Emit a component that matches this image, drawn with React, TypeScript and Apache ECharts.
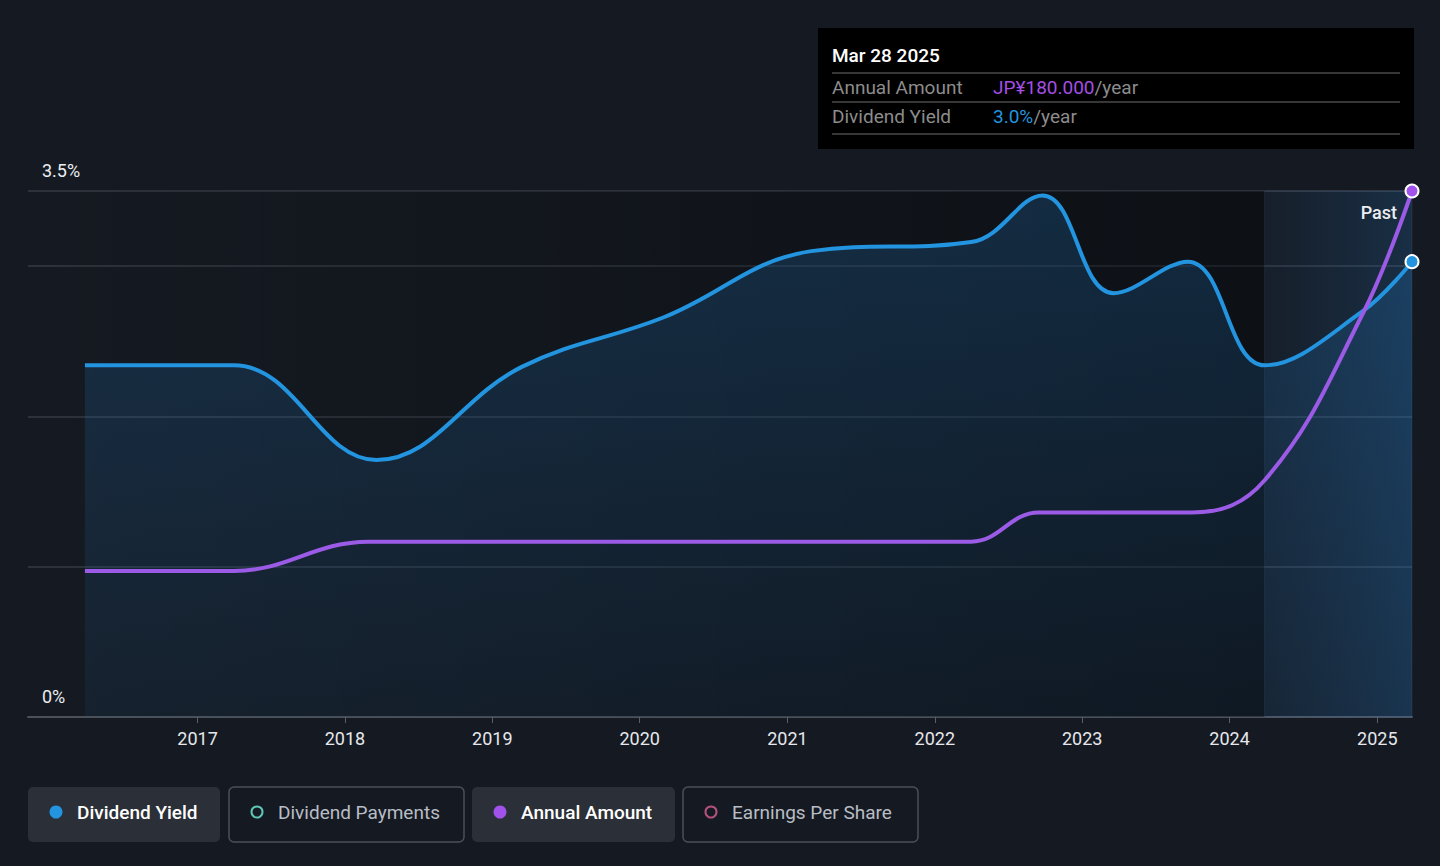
import { useEffect, useRef } from "react";
import * as echarts from "echarts";

// Dividend Yield (%)
const yieldPoints: [string, number][] = [
  ["2016-03-28", 2.34],
  ["2017-04-01", 2.34],
  ["2018-03-20", 1.71],
  ["2019-03-15", 2.33],
  ["2020-03-01", 2.66],
  ["2021-03-01", 3.1],
  ["2022-04-01", 3.16],
  ["2022-09-25", 3.47],
  ["2023-03-20", 2.82],
  ["2023-09-20", 3.03],
  ["2024-03-28", 2.34],
  ["2024-11-26", 2.7],
  ["2025-03-28", 3.03],
];

// Annual Amount (JP¥)
const amountPoints: [string, number][] = [
  ["2016-03-28", 50],
  ["2017-04-01", 50],
  ["2018-03-01", 60],
  ["2022-04-01", 60],
  ["2022-09-15", 70],
  ["2023-10-01", 70],
  ["2024-03-28", 81],
  ["2024-11-26", 138],
  ["2025-03-28", 180],
];

const yearTicks = [2017, 2018, 2019, 2020, 2021, 2022, 2023, 2024, 2025];
const xMin = "2015-11-08";
const xMax = "2025-03-28";
const pastStart = "2024-03-28";

const legendItems = [
  { name: "Dividend Yield", color: "#2394df", active: true, x: 28, w: 192 },
  { name: "Dividend Payments", color: "#5fc5b5", active: false, x: 229, w: 235 },
  { name: "Annual Amount", color: "#a052ea", active: true, x: 472, w: 203 },
  { name: "Earnings Per Share", color: "#b5517f", active: false, x: 683, w: 235 },
];

const BG = "#151a22";
const FONT = "Roboto, 'Noto Sans', sans-serif";

const ts = (d: string) => new Date(d + "T00:00:00Z").getTime();

export default function App() {
  const ref = useRef<HTMLDivElement>(null);

  useEffect(() => {
    document.body.style.margin = "0";
    if (!ref.current) return;
    const chart = echarts.init(ref.current, undefined, { renderer: "svg" });

    const endMarker = (color: string, n: number) => ({
      symbol: "circle",
      showSymbol: true,
      showAllSymbol: true,
      symbolSize: (_v: unknown, p: { dataIndex: number }) =>
        p.dataIndex === n - 1 ? 13 : 0,
      itemStyle: { color, borderColor: "#ffffff", borderWidth: 2 },
    });

    const legendGraphics = legendItems.flatMap((it) => [
      {
        type: "rect",
        shape: { x: it.x, y: 787, width: it.w, height: 55, r: 5 },
        style: it.active
          ? { fill: "#2b2f37" }
          : { fill: BG, stroke: "#4a4f58", lineWidth: 1.5 },
      },
      {
        type: "circle",
        shape: { cx: it.x + 28, cy: 812, r: it.active ? 6.5 : 5.5 },
        style: it.active
          ? { fill: it.color }
          : { fill: "none", stroke: it.color, lineWidth: 2 },
      },
      {
        type: "text",
        x: it.x + 49,
        y: 812,
        style: {
          text: it.name,
          fill: it.active ? "#ffffff" : "#b9bdc5",
          font: `${it.active ? 500 : 400} 19px ${FONT}`,
          verticalAlign: "middle",
        },
      },
    ]);

    const yearValues = yearTicks.map((y) => ts(`${y}-01-01`));

    chart.setOption({
      animation: false,
      backgroundColor: BG,
      textStyle: { fontFamily: FONT },
      grid: { left: 28, right: 28, top: 191, bottom: 149 },
      xAxis: {
        type: "value",
        min: ts(xMin),
        max: ts(xMax),
        axisLine: { lineStyle: { color: "#4b5059", width: 2 } },
        axisTick: {
          show: true,
          length: 6,
          lineStyle: { color: "#5a5f68" },
          customValues: yearValues,
        },
        axisLabel: {
          color: "#e6e8ec",
          fontSize: 18,
          margin: 12,
          customValues: yearValues,
          formatter: (v: number) => String(new Date(v).getUTCFullYear()),
        },
        splitLine: { show: false },
      },
      yAxis: [
        {
          type: "value",
          min: 0,
          max: 3.5,
          interval: 1,
          axisLine: { show: false },
          axisTick: { show: false },
          axisLabel: {
            inside: true,
            margin: 14,
            verticalAlign: "bottom",
            padding: [0, 0, 12, 0],
            color: "#eceef2",
            fontSize: 18,
            formatter: (v: number) =>
              v === 0 ? "0%" : v === 3.5 ? "3.5%" : "",
          },
          splitLine: { lineStyle: { color: "#353a43", width: 1.5 } },
        },
        {
          type: "value",
          min: 0,
          max: 180,
          show: false,
          splitLine: { show: false },
        },
      ],
      series: [
        {
          name: "Dividend Yield",
          type: "line",
          yAxisIndex: 0,
          smooth: 0.4,
          data: yieldPoints.map(([d, v]) => [ts(d), v]),
          ...endMarker("#2394df", yieldPoints.length),
          lineStyle: { color: "#2394df", width: 4 },
          areaStyle: {
            color: new echarts.graphic.LinearGradient(0, 0, 0, 1, [
              { offset: 0, color: "rgba(35,130,210,0.32)" },
              { offset: 1, color: "rgba(35,130,210,0.10)" },
            ]),
          },
          z: 3,
          markArea: {
            silent: true,
            data: [
              [
                {
                  xAxis: ts(xMin),
                  itemStyle: {
                    color: new echarts.graphic.LinearGradient(0, 0, 1, 0, [
                      { offset: 0, color: "rgba(0,0,0,0)" },
                      { offset: 1, color: "rgba(0,0,0,0.38)" },
                    ]),
                  },
                },
                { xAxis: ts(pastStart) },
              ],
              [
                {
                  xAxis: ts(pastStart),
                  itemStyle: {
                    color: new echarts.graphic.LinearGradient(0, 0, 1, 0, [
                      { offset: 0, color: "rgba(40,110,180,0.06)" },
                      { offset: 1, color: "rgba(40,130,210,0.2)" },
                    ]),
                    borderColor: "rgba(120,160,200,0.12)",
                    borderWidth: 1,
                  },
                },
                { xAxis: ts(xMax) },
              ],
            ],
          },
        },
        {
          name: "Annual Amount",
          type: "line",
          yAxisIndex: 1,
          smooth: 0.4,
          data: amountPoints.map(([d, v]) => [ts(d), v]),
          ...endMarker("#a052ea", amountPoints.length),
          lineStyle: { color: "#9b5be6", width: 4 },
          z: 4,
        },
      ],
      graphic: [
        {
          type: "text",
          x: 1397,
          y: 212,
          z: 10,
          style: {
            text: "Past",
            fill: "#eceef2",
            font: `500 18px ${FONT}`,
            align: "right",
            verticalAlign: "middle",
          },
        },
        {
          type: "group",
          z: 20,
          children: [
            {
              type: "rect",
              shape: { x: 818, y: 28, width: 596, height: 121 },
              style: { fill: "#000000" },
            },
            {
              type: "text",
              x: 832,
              y: 55,
              style: {
                text: "Mar 28 2025",
                fill: "#ffffff",
                font: `500 19px ${FONT}`,
                verticalAlign: "middle",
              },
            },
            ...[73, 102, 134].map((y) => ({
              type: "line",
              shape: { x1: 832, y1: y, x2: 1400, y2: y },
              style: { stroke: "#4a4a4a", lineWidth: 1.5 },
            })),
            {
              type: "text",
              x: 832,
              y: 87,
              style: {
                text: "Annual Amount",
                fill: "#8c8c8c",
                font: `19px ${FONT}`,
                verticalAlign: "middle",
              },
            },
            {
              type: "text",
              x: 993,
              y: 87,
              style: {
                text: "{p|JP¥180.000}{g|/year}",
                verticalAlign: "middle",
                font: `19px ${FONT}`,
                rich: {
                  p: { fill: "#a34fe3", font: `19px ${FONT}` },
                  g: { fill: "#8c8c8c", font: `19px ${FONT}` },
                },
              },
            },
            {
              type: "text",
              x: 832,
              y: 116,
              style: {
                text: "Dividend Yield",
                fill: "#8c8c8c",
                font: `19px ${FONT}`,
                verticalAlign: "middle",
              },
            },
            {
              type: "text",
              x: 993,
              y: 116,
              style: {
                text: "{b|3.0%}{g|/year}",
                verticalAlign: "middle",
                font: `19px ${FONT}`,
                rich: {
                  b: { fill: "#2394df", font: `19px ${FONT}` },
                  g: { fill: "#8c8c8c", font: `19px ${FONT}` },
                },
              },
            },
          ],
        },
        ...legendGraphics,
      ],
    });

    return () => chart.dispose();
  }, []);

  return (
    <div
      ref={ref}
      style={{ width: 1440, height: 866, background: BG }}
    />
  );
}
